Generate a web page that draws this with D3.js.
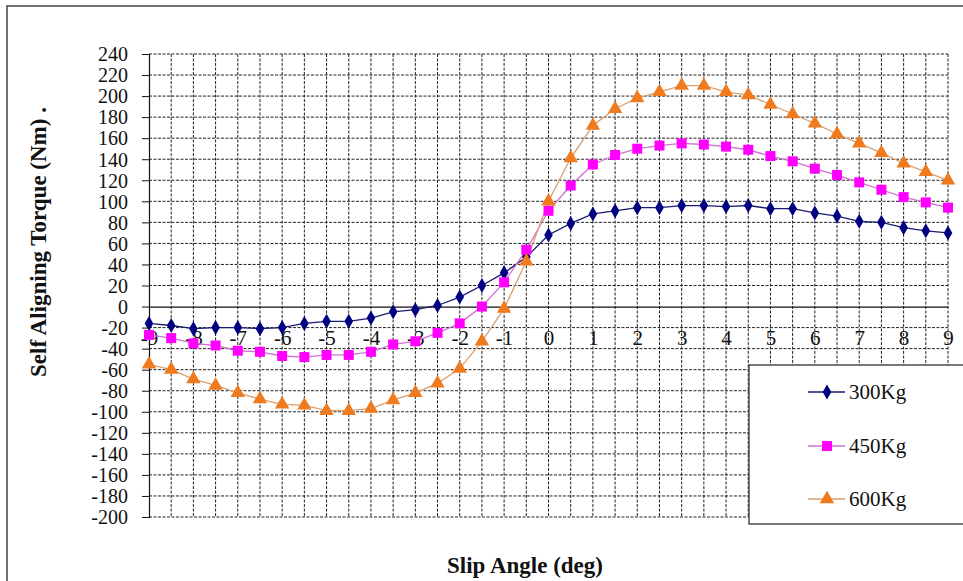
<!DOCTYPE html>
<html><head><meta charset="utf-8">
<script src="https://cdn.jsdelivr.net/npm/d3@7"></script>
<style>html,body{margin:0;padding:0;background:#fff;overflow:hidden}</style>
</head><body>
<svg id="c" width="963" height="581"></svg>
<script>
const slipAngles = [-9,-8.5,-8,-7.5,-7,-6.5,-6,-5.5,-5,-4.5,-4,-3.5,-3,-2.5,-2,-1.5,-1,-0.5,0,0.5,1,1.5,2,2.5,3,3.5,4,4.5,5,5.5,6,6.5,7,7.5,8,8.5,9];
const torque300 = [-16,-18,-21,-20,-20,-21,-20,-16,-14,-14,-11,-5,-3,1,9,20,32,47,68,79,88,91,94,94,96,96,95,96,93,93,89,86,81,80,75,72,70];
const torque450 = [-27,-30,-35,-37,-42,-43,-47,-48,-46,-46,-43,-36,-33,-25,-16,0,23,54,91,115,135,144,150,153,155,154,152,149,143,138,131,125,118,111,104,99,94];
const torque600 = [-55,-60,-69,-75,-82,-88,-93,-94,-99,-99,-97,-89,-82,-73,-59,-33,-2,43,100,141,172,188,198,204,210,210,204,201,192,183,174,164,155,146,136,128,120];
const seriesNames = ["300Kg","450Kg","600Kg"];
const yTicks = d3.range(-200, 241, 20);
const xTickLabels = d3.range(-9, 10, 1);

const svg = d3.select("#c");
const font = "Liberation Serif";

svg.append("rect").attr("x",7).attr("y",6).attr("width",1000).attr("height",700)
  .attr("fill","#fff").attr("stroke","#444").attr("stroke-width",1.5);

const L=149, R=948, T=54, B=517;
const x = d3.scaleLinear().domain([-9,9]).range([L,R]);
const y = d3.scaleLinear().domain([-200,240]).range([B,T]);

// grid
const g = svg.append("g");
g.selectAll(".hg").data(yTicks.filter(v=>v!==0)).join("line")
  .attr("x1",L).attr("x2",R).attr("y1",d=>y(d)).attr("y2",d=>y(d))
  .attr("stroke","#222").attr("stroke-width",1).attr("stroke-dasharray","3,1.5");
g.selectAll(".vg").data(slipAngles.filter(v=>v!==-9)).join("line")
  .attr("x1",d=>x(d)).attr("x2",d=>x(d)).attr("y1",T).attr("y2",B)
  .attr("stroke","#222").attr("stroke-width",1).attr("stroke-dasharray","3,1.5");

// y axis
const yAxis = d3.axisLeft(y).tickValues(yTicks).tickSize(7).tickPadding(14).tickFormat(d=>d<0?"-"+Math.abs(d):String(d));
const ya = svg.append("g").attr("transform",`translate(${L},0)`).call(yAxis);
ya.attr("font-family",null).attr("font-size",null);
ya.select(".domain").attr("stroke","#111").attr("stroke-width",1.2);
ya.selectAll(".tick line").attr("stroke","#111");
ya.selectAll("text").style("font-family",font).style("font-size","20px").attr("fill","#111").attr("dy","0.34em");

// x axis at zero
const xAxis = d3.axisBottom(x).tickValues(xTickLabels).tickSize(0).tickPadding(24).tickFormat(d=>d<0?"-"+Math.abs(d):String(d));
const xa = svg.append("g").attr("transform",`translate(0,${y(0)})`).call(xAxis);
xa.attr("font-family",null).attr("font-size",null);
xa.select(".domain").attr("stroke","#111").attr("stroke-width",1.2);
xa.selectAll("text").style("font-family",font).style("font-size","21px").attr("fill","#111");

const colors = ["#000080","#FF00FF","#F07A1E"];
const lineColors = ["#1a1a70","#d070d0","#d9a070"];
const data = [torque300, torque450, torque600];
const line = d3.line().x((d,i)=>x(slipAngles[i])).y(d=>y(d));
const symbols = [d3.symbolDiamond, d3.symbolSquare, d3.symbolTriangle];
const sizes = [65, 100, 90];

data.forEach((vals,k)=>{
  svg.append("path").datum(vals).attr("d",line).attr("fill","none")
    .attr("stroke",lineColors[k]).attr("stroke-width",1.3);
});
data.forEach((vals,k)=>{
  svg.append("g").selectAll("path").data(vals).join("path")
    .attr("transform",(d,i)=>`translate(${x(slipAngles[i])},${y(d)})`)
    .attr("d",d3.symbol().type(symbols[k]).size(sizes[k]))
    .attr("fill",colors[k]);
});

// legend
svg.append("rect").attr("x",749).attr("y",365).attr("width",260).attr("height",159)
  .attr("fill","#fff").attr("stroke","#333").attr("stroke-width",1.3);
const ly = [392,446,499];
seriesNames.forEach((n,k)=>{
  svg.append("line").attr("x1",808).attr("x2",845).attr("y1",ly[k]).attr("y2",ly[k])
    .attr("stroke",lineColors[k]).attr("stroke-width",1.3);
  svg.append("path").attr("transform",`translate(827,${ly[k]})`)
    .attr("d",d3.symbol().type(symbols[k]).size(sizes[k])).attr("fill",colors[k]);
  svg.append("text").attr("x",849).attr("y",ly[k]).attr("dy","0.35em")
    .style("font-family",font).style("font-size","21px").attr("fill","#111").text(n);
});

// titles
svg.append("text").attr("x",525).attr("y",565).attr("dy","0.35em").attr("text-anchor","middle")
  .style("font-family",font).style("font-size","23px").style("font-weight","bold").attr("fill","#111")
  .text("Slip Angle (deg)");
svg.append("text").attr("transform","translate(38,242) rotate(-90)").attr("dy","0.35em").attr("text-anchor","middle")
  .style("font-family",font).style("font-size","23px").style("font-weight","bold").attr("fill","#111")
  .text("Self Aligning Torque (Nm) .");
</script>
</body></html>
